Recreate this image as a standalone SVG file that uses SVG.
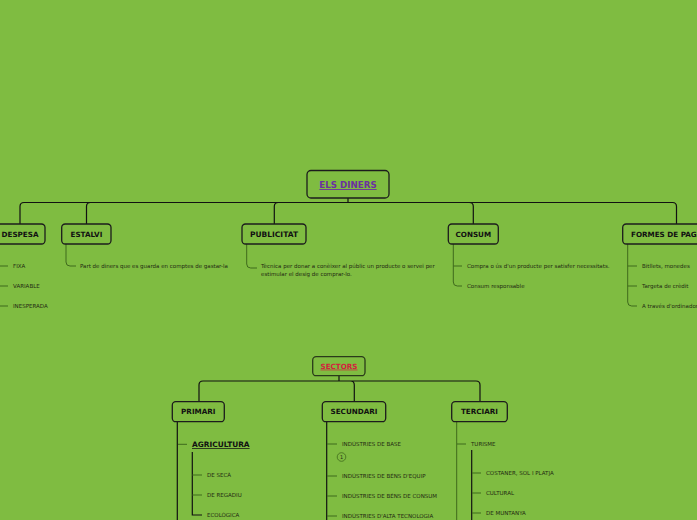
<svg xmlns="http://www.w3.org/2000/svg" width="697" height="520" viewBox="0 0 697 520">
<style>
.node rect{fill:#7fbc41;stroke:#1c1c1c;stroke-width:1.3}
.nt{font-family:"DejaVu Sans",Verdana,sans-serif;font-weight:bold;font-size:7.2px;fill:#111;text-anchor:middle}
.it{font-family:"DejaVu Sans",Verdana,sans-serif;font-size:5.5px;fill:#1f2a12}
.main{fill:none;stroke:#111;stroke-width:1.2}
.sub{fill:none;stroke:#3f6a1c;stroke-width:1}
.dark{fill:none;stroke:#111;stroke-width:1.2}
</style>
<rect width="697" height="520" fill="#7fbc41"/>
<g id="connectors">
<path class="main" d="M348 198V202.5M20 224V206.5Q20 202.5 24 202.5H672.5Q676.5 202.5 676.5 206.5V224M86.5 224V206.5Q86.5 202.5 90.5 202.5M274.3 224V206.5Q274.3 202.5 278.3 202.5M473.3 224V206.5Q473.3 202.5 469.3 202.5"/>
<path class="sub" d="M0 266H8M0 286H8M0 306H8"/>
<path class="sub" d="M66 244V262Q66 266 70 266H76"/>
<path class="sub" d="M246.7 244V264Q246.7 268 250.7 268H257"/>
<path class="sub" d="M453.3 244V282Q453.3 286 457.3 286H462M453.3 266H462"/>
<path class="sub" d="M627.7 244V302Q627.7 306 631.7 306H637M627.7 266H637M627.7 286H637"/>
<path class="main" d="M339 376V381M199 402V385Q199 381 203 381H476Q480 381 480 385V402M354.3 402V385Q354.3 381 350.3 381"/>
<path class="dark" d="M177.3 422V520"/>
<path class="sub" d="M178 444.3H187"/>
<path class="dark" d="M192.3 452V515H202"/>
<path class="sub" d="M192.3 475H202M192.3 495H202"/>
<path class="dark" d="M326.7 422V520"/>
<path class="sub" d="M327 444H337M327 476H337M327 496H337M327 516H337"/>
<path class="sub" d="M456.7 422V520M457 444H466"/>
<path class="dark" d="M471.7 450V520"/>
<path class="sub" d="M472 473H481M472 493H481M472 513H481"/>
</g>
<g id="n-root" class="node"><rect x="307" y="170.5" width="82" height="27.5" rx="4"/><text class="nt" x="348" y="188" style="font-size:8.7px;fill:#6b2fa0;text-decoration:underline">ELS DINERS</text></g>
<g id="n-despesa" class="node"><rect x="-6" y="224" width="51" height="20" rx="3.5"/><text class="nt" x="20" y="236.6">DESPESA</text></g>
<g id="n-estalvi" class="node"><rect x="61.7" y="224" width="49.3" height="20" rx="3.5"/><text class="nt" x="86.4" y="236.6">ESTALVI</text></g>
<g id="n-publicitat" class="node"><rect x="242" y="224" width="64" height="20" rx="3.5"/><text class="nt" x="274" y="236.6" style="font-size:7.5px">PUBLICITAT</text></g>
<g id="n-consum" class="node"><rect x="448.3" y="224" width="50" height="20" rx="3.5"/><text class="nt" x="473.3" y="236.6">CONSUM</text></g>
<g id="n-formes" class="node"><rect x="622.7" y="224" width="108" height="20" rx="3.5"/><text class="nt" x="631" y="236.6" style="text-anchor:start">FORMES DE PAGAMENT</text></g>
<g id="items-despesa"><text class="it" x="13" y="268">FIXA</text><text class="it" x="13" y="288">VARIABLE</text><text class="it" x="13" y="308">INESPERADA</text></g>
<g id="items-estalvi"><text class="it" x="80" y="268">Part de diners que es guarda en comptes de gastar-la</text></g>
<g id="items-publicitat"><text class="it" x="261" y="268">Tècnica per donar a conèixer al públic un producte o servei per</text><text class="it" x="261" y="275.5">estimular el desig de comprar-lo.</text></g>
<g id="items-consum"><text class="it" x="467" y="268">Compra o ús d'un producte per satisfer necessitats.</text><text class="it" x="467" y="288">Consum responsable</text></g>
<g id="items-formes"><text class="it" x="642" y="268">Bitllets, monedes</text><text class="it" x="642" y="288">Targeta de crèdit</text><text class="it" x="642" y="308">A través d'ordinador</text></g>
<g id="n-sectors" class="node"><rect x="312.7" y="356.7" width="52.3" height="19" rx="3.5" style="stroke:#2a3a1a"/><text class="nt" x="339" y="368.6" style="fill:#d4213d;text-decoration:underline">SECTORS</text></g>
<g id="n-primari" class="node"><rect x="172.3" y="401.7" width="52" height="20" rx="3.5"/><text class="nt" x="198.3" y="414.3">PRIMARI</text></g>
<g id="n-secundari" class="node"><rect x="322.3" y="401.7" width="63.4" height="20" rx="3.5"/><text class="nt" x="354" y="414.3">SECUNDARI</text></g>
<g id="n-terciari" class="node"><rect x="451.7" y="401.7" width="55.6" height="20" rx="3.5"/><text class="nt" x="479.5" y="414.3">TERCIARI</text></g>
<g id="items-primari"><text class="nt" x="192" y="447" style="text-anchor:start;font-size:7.4px;text-decoration:underline">AGRICULTURA</text><text class="it" x="207" y="477">DE SECÀ</text><text class="it" x="207" y="497">DE REGADIU</text><text class="it" x="207" y="517">ECOLÒGICA</text></g>
<g id="items-secundari"><text class="it" x="342" y="446">INDÚSTRIES DE BASE</text><circle cx="341.5" cy="457" r="4.3" fill="none" stroke="#3f6a1c" stroke-width="0.8"/><text class="it" x="341.5" y="459" style="text-anchor:middle;font-size:5px">1</text><text class="it" x="342" y="478">INDÚSTRIES DE BÉNS D'EQUIP</text><text class="it" x="342" y="498">INDÚSTRIES DE BÉNS DE CONSUM</text><text class="it" x="342" y="518">INDÚSTRIES D'ALTA TECNOLOGIA</text></g>
<g id="items-terciari"><text class="it" x="471" y="446">TURISME</text><text class="it" x="486" y="475">COSTANER, SOL I PLATJA</text><text class="it" x="486" y="495">CULTURAL</text><text class="it" x="486" y="515">DE MUNTANYA</text></g>
</svg>
